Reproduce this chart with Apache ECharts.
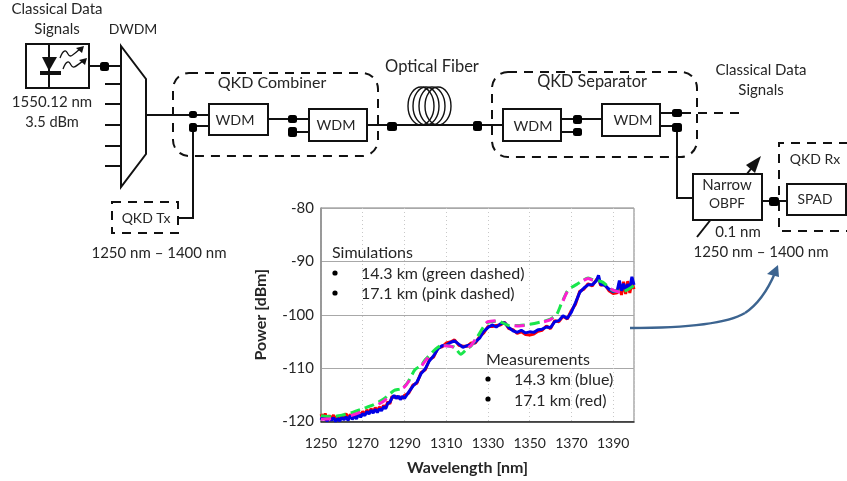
<!DOCTYPE html>
<html><head><meta charset="utf-8">
<style>html,body{margin:0;padding:0;background:#fff}#c{width:847px;height:481px}</style>
<script src="https://cdn.jsdelivr.net/npm/echarts@6/dist/echarts.min.js"></script>
</head><body><div id="c"></div>
<script>
var xTickLabels = [1250,1270,1290,1310,1330,1350,1370,1390];
var yTickLabels = [-120,-110,-100,-90,-80];

var measWavelengths = [1250,1251,1252,1253,1254,1255,1256,1257,1258,1259,1260,1261,1262,1263,1264,1265,1266,1267,1268,1269,1270,1271,1272,1273,1274,1275,1276,1277,1278,1279,1280,1281,1282,1283,1284,1285,1286,1287,1288,1289,1290,1292,1294,1296,1298,1300,1302,1304,1306,1308,1310,1312,1314,1316,1318,1320,1322,1324,1326,1328,1330,1332,1334,1336,1338,1340,1342,1344,1346,1348,1350,1352,1354,1356,1358,1360,1362,1364,1366,1368,1370,1372,1374,1376,1378,1380,1382,1383,1384,1386,1388,1390,1392,1393,1394,1395,1396,1397,1398,1399,1400];
var measured143 = [-119.7,-118.9,-119.5,-119.9,-119.2,-119.8,-119.3,-120.0,-119.4,-119.9,-119.2,-119.7,-119.1,-119.8,-118.9,-119.6,-119.0,-119.5,-118.6,-119.2,-118.5,-118.9,-118.1,-118.6,-117.9,-118.4,-117.7,-118.3,-117.6,-118.0,-117.2,-117.6,-116.6,-116.4,-115.6,-115.1,-115.7,-115.2,-115.9,-115.3,-115.7,-114.5,-113.4,-112.6,-111.0,-110.1,-108.6,-107.7,-106.4,-105.8,-105.7,-105.2,-104.9,-105.5,-106.1,-105.8,-105.6,-105.1,-104.4,-103.1,-102.4,-101.9,-102.3,-101.7,-101.5,-102.4,-103.0,-103.3,-102.9,-103.4,-103.2,-103.3,-102.8,-102.7,-102.3,-102.4,-101.3,-101.1,-100.2,-100.7,-99.5,-97.7,-95.8,-95.0,-94.4,-94.4,-93.6,-92.6,-94.3,-94.5,-95.2,-95.7,-95.4,-93.6,-95.5,-94.2,-95.4,-94.3,-95.0,-92.9,-94.4];
var measured171 = [-118.6,-119.4,-118.5,-119.5,-118.9,-119.4,-118.8,-119.7,-118.9,-119.5,-118.9,-119.3,-118.5,-119.4,-118.7,-119.1,-118.4,-119.3,-118.2,-118.9,-118.1,-118.7,-117.8,-118.4,-117.6,-118.2,-117.4,-118.0,-117.3,-117.7,-117.0,-117.4,-116.3,-116.7,-115.3,-115.5,-115.3,-115.6,-115.4,-115.7,-115.1,-114.7,-113.2,-112.8,-110.8,-110.3,-108.4,-107.9,-106.2,-106.0,-105.3,-105.1,-104.7,-105.7,-105.9,-105.9,-105.3,-105.3,-104.1,-103.4,-102.2,-102.2,-102.0,-101.9,-101.4,-102.6,-102.8,-103.5,-103.2,-103.7,-103.8,-103.6,-103.1,-102.9,-102.1,-102.6,-101.1,-101.3,-100.3,-100.8,-99.2,-98.0,-95.6,-95.2,-94.2,-94.6,-93.4,-93.2,-94.5,-94.3,-95.5,-96.0,-95.9,-94.1,-96.3,-93.8,-96.1,-93.7,-95.9,-93.9,-95.2];

var simWavelengths = [1250,1255,1260,1265,1270,1275,1280,1285,1288,1290,1292,1295,1298,1300,1305,1308,1312,1314,1317,1320,1322,1325,1328,1330,1335,1340,1345,1350,1355,1360,1363,1365,1368,1370,1373,1378,1380,1385,1390,1395,1400];
var simulated143 = [-118.9,-119.1,-118.8,-118.3,-117.6,-116.9,-115.8,-114.2,-113.9,-113.4,-112.4,-110.3,-109.5,-108.4,-106.4,-105.7,-105.9,-106.1,-107.4,-106.4,-105.8,-104.1,-102.2,-101.4,-101.2,-102.0,-102.0,-101.8,-101.4,-100.8,-99.9,-98.1,-95.6,-94.9,-94.2,-93.1,-93.4,-93.9,-95.5,-95.6,-94.5];
var simulated171 = [-119.6,-119.5,-119.2,-118.8,-118.1,-117.3,-116.2,-114.4,-114.0,-113.5,-112.5,-110.5,-109.7,-108.6,-106.5,-105.8,-105.9,-106.2,-107.3,-106.3,-105.7,-104.0,-102.0,-101.3,-101.1,-101.9,-102.1,-101.9,-101.5,-100.9,-100.0,-98.3,-95.7,-95.0,-94.3,-93.2,-93.5,-94.0,-95.4,-95.9,-95.0];

function pairs(xs, ys){ return xs.map(function(x,i){ return [x, ys[i]]; }); }

var FONT = 'Lato, "Open Sans", sans-serif', INK = '#262626', LW = 2;
var g = [];
function text(s,x,y,size,align){ g.push({type:'text',z:20,style:{text:s,x:x,y:y,fill:INK,font:'normal '+(size||15)+'px '+FONT,textAlign:align||'center',textVerticalAlign:'middle'}}); }
function poly(pts,opt){ opt=opt||{}; g.push({type:'polyline',z:opt.z||10,shape:{points:pts},style:{stroke:opt.color||'#111',lineWidth:opt.lw||LW,fill:null,lineDash:opt.dash||null}}); }
function box(x0,y0,x1,y1){ g.push({type:'rect',z:12,shape:{x:x0,y:y0,width:x1-x0,height:y1-y0},style:{stroke:'#111',lineWidth:LW,fill:'#fff'}}); }
function dashBox(x0,y0,x1,y1,r){ g.push({type:'rect',z:11,shape:{x:x0,y:y0,width:x1-x0,height:y1-y0,r:r||0},style:{stroke:'#111',lineWidth:LW,fill:null,lineDash:[9,7]}}); }
function conn(x0,y0,x1,y1){ g.push({type:'rect',z:13,shape:{x:x0,y:y0,width:x1-x0,height:y1-y0,r:2.5},style:{fill:'#000'}}); }
function tri(a,b,c,color){ g.push({type:'polygon',z:14,shape:{points:[a,b,c]},style:{fill:color||'#111'}}); }
function dot(x,y){ g.push({type:'circle',z:20,shape:{cx:x,cy:y,r:2.6},style:{fill:'#000'}}); }
function curve(x1,y1,c1x,c1y,c2x,c2y,x2,y2,color,lw){ g.push({type:'bezierCurve',z:15,shape:{x1:x1,y1:y1,cpx1:c1x,cpy1:c1y,cpx2:c2x,cpy2:c2y,x2:x2,y2:y2},style:{stroke:color||'#111',lineWidth:lw||1.3,fill:null}}); }

// Laser source
box(26,44,89,88);
poly([[49,44],[49,88]],{z:13});
tri([42,57],[57,57],[49,71]);
g.push({type:'rect',z:14,shape:{x:40,y:71,width:21,height:4},style:{fill:'#111'}});
curve(60,58,63,50,66,49,68,54); curve(68,54,70,58,72,56,80,49);
curve(63,69,66,61,69,60,71,65); curve(71,65,73,69,75,67,83,61);
tri([84,46],[76,48],[82,53]); tri([87,58],[79,60],[85,65]);
poly([[89,66],[121,66]]); conn(100,62,109,71);

// DWDM
g.push({type:'polygon',z:12,shape:{points:[[121,46],[146,79],[146,154],[121,187]]},style:{stroke:'#111',lineWidth:LW,fill:'#fff'}});
[84,104,125,146,166].forEach(function(y){ poly([[105,y],[121,y]]); });
poly([[146,115],[209,115]]); conn(189,111,197,118);

// QKD Tx
dashBox(112,202,178,233);
poly([[178,218],[193,218],[193,126],[209,126]]); conn(189,123,197,132);

// Combiner
dashBox(173,73,378,156,16);
box(209,104,268,135);
poly([[268,119],[309,119]]); conn(288,115,297,123);
poly([[292,132],[309,132]]); conn(288,127,297,137);
box(309,109,367,141);
poly([[367,125],[503,125]]); conn(387,122,397,131); conn(473,121,482,131);

// Fiber coil
[421,426,432,438].forEach(function(cx){ g.push({type:'ellipse',z:13,shape:{cx:cx,cy:106,rx:13,ry:19},style:{stroke:'#111',lineWidth:1.4,fill:null}}); });

// Separator
dashBox(492,72,697,157,16);
box(503,109,561,141);
poly([[561,119],[602,119]]); conn(573,115,582,124);
poly([[561,132],[578,132]]); conn(573,128,582,136);
box(602,104,660,136);
poly([[660,113],[678,113]]); conn(672,109,682,117);
poly([[682,113],[745,113]],{dash:[9,7]});
poly([[660,126],[677,126],[677,198],[693,198]]); conn(672,123,682,132);

// OBPF and receiver
poly([[697,237],[754,165]]);
tri([761,156],[746,165],[755,173]);
box(693,174,762,220);
poly([[762,201],[787,201]]); conn(769,197,779,206);
box(787,184,846,215);
poly([[848,143],[779,143],[779,231],[848,231]],{dash:[9,7]});

// Curved pointer
curve(630,328,680,328,725,325,745,313,'#3c6490',2.4);
curve(745,313,760,303,769,287,775,273,'#3c6490',2.4);
tri([778,265],[767,274],[779,277],'#3c6490');

// Diagram labels
text('Classical Data',57,9,15); text('Signals',57,29,15); text('DWDM',133,29,14);
text('1550.12 nm',52,102,15); text('3.5 dBm',52,122,14.6);
text('QKD Tx',146,218,14); text('1250 nm – 1400 nm',159,253,15);
text('QKD Combiner',272,83,16); text('WDM',235,120,14.3); text('WDM',336,125,14.3);
text('Optical Fiber',432,67,16.5); text('QKD Separator',592,82,16.3);
text('WDM',533,126,14.3); text('WDM',633,120,14.3);
text('Classical Data',761,70,15); text('Signals',761,90,15);
text('Narrow',727,185,15); text('OBPF',727,204,13.8); text('0.1 nm',738,232,15);
text('1250 nm – 1400 nm',761,252,15);
text('QKD Rx',815,159,14); text('SPAD',815,200,13.8);

// Notes inside the plot
text('Simulations',332,253,16,'left'); dot(335,273); dot(335,293);
text('14.3 km (green dashed)',361,274,16,'left'); text('17.1 km (pink dashed)',361,294,16,'left');
text('Measurements',486,360,16,'left'); dot(488,379); dot(488,399);
text('14.3 km (blue)',514,380,16,'left'); text('17.1 km (red)',514,401,16,'left');

var chart = echarts.init(document.getElementById('c'), null, {renderer:'canvas'});
chart.setOption({
  animation:false,
  backgroundColor:'#fff',
  graphic:{elements:g},
  grid:{left:321,top:208,right:213,bottom:59.5,show:true,borderColor:'#7f7f7f',borderWidth:1},
  xAxis:{type:'value',min:1250,max:1400,interval:20,
    name:'Wavelength [nm]',nameLocation:'middle',nameGap:38,
    nameTextStyle:{fontFamily:FONT,fontWeight:'bold',fontSize:16,color:INK,padding:[0,20,0,0]},
    axisLine:{onZero:false,lineStyle:{color:'#222',width:1.5}},
    axisTick:{show:false},
    axisLabel:{color:INK,fontFamily:FONT,fontSize:14,margin:15,customValues:xTickLabels,hideOverlap:false,
      formatter:function(v){ return String(v); }},
    splitLine:{show:true,lineStyle:{color:'#c8c8c8',type:[1,3],width:1}}},
  yAxis:{type:'value',min:yTickLabels[0],max:yTickLabels[yTickLabels.length-1],interval:10,
    name:'Power [dBm]',nameLocation:'middle',nameRotate:90,nameGap:52,
    nameTextStyle:{fontFamily:FONT,fontWeight:'bold',fontSize:16,color:INK},
    axisLine:{show:true,lineStyle:{color:'#8c8c8c',width:1.5}},
    axisTick:{show:false},
    axisLabel:{color:INK,fontFamily:FONT,fontSize:15,margin:7},
    splitLine:{show:true,lineStyle:{color:'#a8a8a8',width:1}}},
  series:[
    {name:'17.1 km measured',type:'line',data:pairs(measWavelengths,measured171),showSymbol:false,lineStyle:{color:'#ff0000',width:3},z:2},
    {name:'14.3 km measured',type:'line',data:pairs(measWavelengths,measured143),showSymbol:false,lineStyle:{color:'#0000e6',width:3},z:3},
    {name:'14.3 km simulated',type:'line',data:pairs(simWavelengths,simulated143),showSymbol:false,smooth:0.2,lineStyle:{color:'#19e64b',width:3,type:[10,5]},z:4},
    {name:'17.1 km simulated',type:'line',data:pairs(simWavelengths,simulated171),showSymbol:false,smooth:0.2,lineStyle:{color:'#ff1ed2',width:3,type:[10,20]},z:5}
  ]
});
</script></body></html>
